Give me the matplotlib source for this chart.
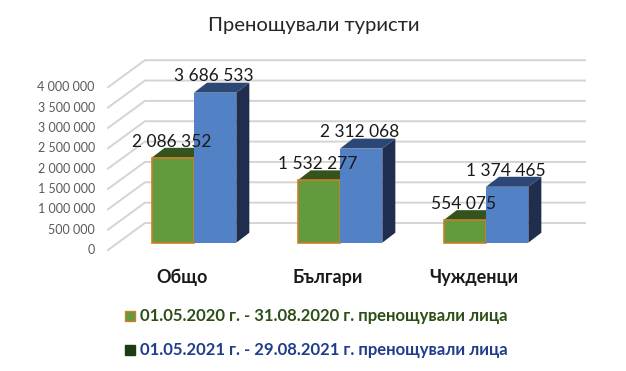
import matplotlib
matplotlib.use("Agg")
import matplotlib.pyplot as plt
from matplotlib.patches import Polygon, Rectangle

plt.rcParams['font.family'] = ['Lato', 'DejaVu Sans']

# data
categories = ["Общо", "Българи", "Чужденци"]
vals_2020 = [2086352, 1532277, 554075]
vals_2021 = [3686533, 2312068, 1374465]
labels_2020 = ["2 086 352", "1 532 277", "554 075"]
labels_2021 = ["3 686 533", "2 312 068", "1 374 465"]
yticks = [0, 500000, 1000000, 1500000, 2000000, 2500000, 3000000, 3500000, 4000000]
ytick_labels = ["0", "500 000", "1 000 000", "1 500 000", "2 000 000",
                "2 500 000", "3 000 000", "3 500 000", "4 000 000"]
legend_labels = ["01.05.2020 г. - 31.08.2020 г. пренощували лица",
                 "01.05.2021 г. - 29.08.2021 г. пренощували лица"]

# colours
green = "#619b3e"
green_edge = "#d27b2a"
green_top = "#35531d"
blue = "#5381c6"
blue_top = "#2c4676"
blue_side = "#1f2e4e"
grid_c = "#d4d4d4"

# fake 3d geometry (data units)
W = 0.29                 # bar width
DX, DY = 0.089, 245000   # bar depth offset
FX, FY = -0.589, -179000  # front edge of floor relative to bar plane
BX, BY = -0.336, 484000   # back wall left relative to bar plane
BACK_RIGHT = 2.678

fig = plt.figure(figsize=(6.26, 3.71), dpi=100)
ax = fig.add_axes([0, 0, 1, 1])
ax.set_xlim(-194 / 146, (626 - 194) / 146)
ax.set_ylim((242.7 - 371) / 40.7e-6, 242.7 / 40.7e-6)
ax.axis("off")

# gridlines: oblique side wall + back wall
for t, lab in zip(yticks, ytick_labels):
    ax.plot([FX, BX, BACK_RIGHT], [t + FY, t + BY, t + BY], color=grid_c, lw=1.4,
            solid_joinstyle="miter", zorder=1)
    ax.text(FX - 0.09, t + FY, lab, ha="right", va="center", fontsize=9, color="#595959")


def bar3d(x0, v, front, top, side, edge=None):
    ax.add_patch(Polygon([(x0 + W, 0), (x0 + W + DX, DY), (x0 + W + DX, v + DY), (x0 + W, v)],
                         closed=True, facecolor=side, edgecolor="none", zorder=3))
    ax.add_patch(Polygon([(x0, v), (x0 + DX, v + DY), (x0 + W + DX, v + DY), (x0 + W, v)],
                         closed=True, facecolor=top, edgecolor="none", zorder=3))
    ax.bar(x0, v, width=W, align="edge", color=front,
           edgecolor=edge if edge else "none", linewidth=1.2, zorder=4)


for i, cat in enumerate(categories):
    bar3d(i - W, vals_2020[i], green, green_top, green_top, green_edge)
    bar3d(i, vals_2021[i], blue, blue_top, blue_side)
    ax.text(i - W / 2 - 0.01, vals_2020[i] + DY + 30000, labels_2020[i], ha="center",
            va="baseline", fontsize=12.5, color="#1a1a1a", zorder=6)
    ax.text(i + W / 2 - 0.01, vals_2021[i] + DY + 30000, labels_2021[i], ha="center",
            va="baseline", fontsize=12.5, color="#1a1a1a", zorder=6)
    ax.text(i - 0.082, -843000, cat, ha="center", va="center", fontsize=13,
            fontweight="bold", color="#1a1a1a")

fig.text(314 / 626, 1 - 25 / 371, "Пренощували туристи", ha="center", va="center",
         fontsize=14.6, color="#262626")

# legend
leg_y = [316, 350]
leg_sq = [(green, green_edge), ("#1d3b12", "#1d3b12")]
leg_txt_c = ["#2c4f17", "#203d8c"]
for yy, (fc, ec), tc, lab in zip(leg_y, leg_sq, leg_txt_c, legend_labels):
    fig.patches.append(Rectangle((125 / 626, 1 - (yy + 5) / 371), 10 / 626, 10 / 371,
                                 transform=fig.transFigure, facecolor=fc, edgecolor=ec, lw=1))
    fig.text(140 / 626, 1 - yy / 371, lab, ha="left", va="center", fontsize=12,
             fontweight="bold", color=tc)

fig.savefig("out.png", dpi=100)
